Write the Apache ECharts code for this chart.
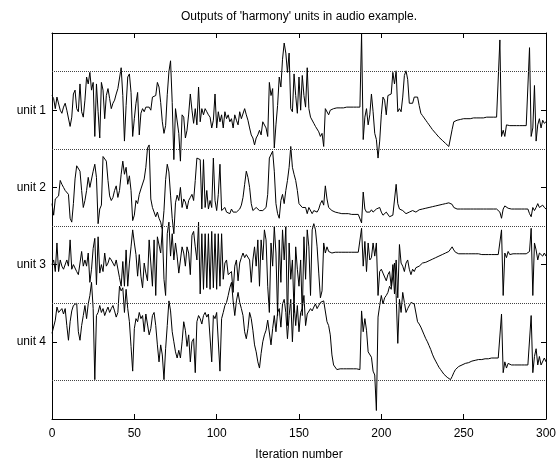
<!DOCTYPE html>
<html><head><meta charset="utf-8">
<script src="https://cdn.jsdelivr.net/npm/echarts@6/dist/echarts.min.js"></script>
<style>html,body{margin:0;padding:0;background:#fff}#c{width:559px;height:466px}</style>
</head><body><div id="c"></div>
<script>
// ---- data (values in hundredths of one unit band; dotted lines at +/-50) ----
const chartTitle = "Outputs of 'harmony' units in audio example.";
const xTitle = 'Iteration number';
const unitNames = ['unit 1', 'unit 2', 'unit 3', 'unit 4'];
const unitOffsets = [4, 3, 2, 1];
const bandLevels = [0.5, 1.5, 2.5, 3.5, 4.5];
const xMin = 0, xMax = 300, xStep = 50;

const unit1 = [
19,15,2,17,15,0,-4,4,9,0,
2,-21,-9,21,26,2,-2,34,-2,-9,
13,43,34,49,26,36,-34,34,-2,-36,
36,26,-11,19,28,15,2,9,13,21,
28,30,55,19,-40,6,43,47,23,-34,
-11,9,23,-32,-4,2,-2,4,6,4,
0,17,15,19,36,30,10,-15,-30,-20,
20,50,64,10,-64,2,0,-30,-66,-6,
-9,-36,-26,-5,21,0,-17,2,-19,30,
-15,2,-6,2,-2,-6,-9,-23,-13,21,
-23,-2,-15,-6,-23,-2,-11,-6,-15,-11,
-23,-6,-13,-19,-2,-11,-9,2,-6,-13,
-23,-32,-36,-45,-36,-32,-26,-32,-15,-13,
-23,-34,36,19,28,-49,-19,6,43,30,
66,87,74,49,74,2,-2,47,19,-4,
43,0,45,19,4,55,2,-9,-11,-17,
-21,-23,-28,-34,-30,-47,2,0,-6,0,
2,2,3,3,3,3,3,3,4,4,
4,4,4,4,4,4,4,4,99,-38,
-9,2,-19,-6,21,-2,-30,-38,-62,-40,
-6,17,13,-6,19,21,21,49,34,51,
-2,2,-2,17,45,51,40,9,11,9,
17,19,17,6,-4,-7,-10,-13,-16,-19,
-22,-25,-27,-30,-32,-35,-37,-39,-41,-43,
-45,-47,-49,-25,-15,-13,-13,-12,-12,-12,
-11,-11,-11,-11,-11,-10,-10,-10,-10,-10,
-10,-10,-10,-10,-9,-9,-9,-9,-9,-9,
-9,-9,91,-34,-26,-34,-19,-21,-20,-20,
-20,-20,-20,-20,-20,-20,-20,-20,-20,-20,
81,-34,-23,32,-40,-19,-11,-23,-13,-17,-15
];

const unit2 = [
-21,-36,-15,-17,-11,9,4,0,-4,-6,
-9,-40,-45,-21,11,28,30,21,-4,-26,
-17,-4,13,0,2,21,30,13,-47,-28,
-23,40,40,34,9,-11,-17,-13,-4,2,
-13,-4,17,34,17,26,4,15,-4,-43,
-36,-17,-21,-9,-2,-4,11,26,51,55,
-15,-26,-28,-38,-32,-40,-45,-55,-30,10,
30,20,-10,-40,-60,-20,-10,-17,0,-26,
-15,-19,-28,-17,-13,-9,-17,9,38,40,
36,-28,36,-26,-4,-28,-17,-26,38,-17,
-30,-9,30,-30,-32,-26,-32,-30,-34,-28,
-32,-34,-32,-30,-28,-23,-13,4,21,13,
0,-21,-30,-28,-26,-28,-30,-28,-30,-28,
-26,-9,38,40,47,21,-21,-34,-40,-17,
-9,-21,-4,9,26,53,26,17,9,-4,
-21,-19,-26,-28,-26,-34,-26,-28,-34,-30,
-28,-32,-28,-21,-17,-23,2,-15,-26,-28,
-30,-32,-32,-33,-33,-33,-34,-34,-34,-34,
-34,-34,-35,-35,-35,-35,-35,-36,-46,-6,
-28,-32,-34,-32,-29,-32,-34,-28,-26,-26,
-32,-36,-34,-32,-34,-38,-38,-36,-34,4,
-21,-28,-28,-30,-32,-34,-36,-32,-30,-30,
-31,-32,-31,-29,-28,-28,-27,-27,-26,-26,
-25,-25,-24,-24,-23,-23,-22,-22,-21,-21,
-21,-20,-20,-22,-26,-27,-28,-28,-28,-28,
-28,-28,-28,-28,-28,-28,-28,-28,-28,-28,
-28,-28,-28,-28,-28,-28,-28,-28,-28,-28,
-28,-28,-32,-40,-28,-24,-26,-27,-28,-28,
-28,-28,-28,-28,-28,-28,-28,-28,-28,-28,
-34,-38,-26,-30,-26,-21,-26,-28,-23,-26,-28
];

const unit3 = [
0,6,-9,28,-9,6,-2,-6,-4,6,
-2,32,-6,0,2,-9,-13,-11,17,-2,
6,-2,15,-23,-6,21,34,-26,36,-11,
0,-9,15,-2,2,9,6,2,-2,6,
4,-17,-28,4,-28,19,-28,2,23,45,
28,13,-15,13,-15,-30,2,-11,-21,32,
32,-28,32,-40,36,38,15,45,-19,-40,
40,55,11,40,6,28,11,-11,-13,23,
15,-2,23,15,-13,38,43,23,6,55,
-38,40,-32,40,-30,40,-32,43,-30,40,
-32,40,-28,40,-19,2,6,-13,-15,-9,
-36,-2,6,-21,2,9,15,9,13,11,
6,-23,6,23,-2,32,-28,32,6,45,
32,-28,-62,28,-2,49,15,-66,32,-23,
45,6,49,-79,28,-19,6,-62,23,-6,
-28,6,-66,36,-19,45,23,-40,45,53,
45,23,-11,-43,-34,28,15,23,17,19,
15,16,16,16,16,16,16,16,16,16,
16,16,16,16,16,16,16,16,47,-2,
30,-9,28,6,9,28,11,28,-40,-9,
-6,-11,-13,-21,-13,-9,-28,0,-38,6,
-43,26,2,-2,-9,2,6,-6,-13,-6,
-9,-4,-6,-2,0,2,2,3,4,5,
6,7,8,9,10,11,12,13,14,15,
16,17,17,23,19,16,15,14,14,14,
14,14,14,14,14,14,14,14,14,14,
13,13,13,13,13,13,13,13,13,13,
13,13,13,45,-40,15,9,17,13,14,
14,14,14,14,14,14,14,14,14,14,
17,47,-40,28,19,6,15,17,11,15,11
];

const unit4 = [
11,9,28,45,38,36,43,36,43,21,
2,26,40,47,49,50,13,2,21,34,
47,30,49,60,77,43,-49,34,38,47,
38,43,34,40,45,38,43,47,40,32,
38,72,66,70,38,68,43,26,-6,-38,
17,30,26,38,30,34,13,36,34,9,
17,34,38,21,-4,-26,-4,-17,-49,-9,
21,53,40,13,0,-13,-21,-11,-21,0,
26,15,-6,9,-26,0,4,-40,26,34,
30,23,34,38,32,36,34,-26,34,30,
38,36,-38,30,38,47,51,60,70,77,
53,34,53,64,51,43,34,13,4,17,
38,30,15,-4,-13,-26,-34,-15,0,9,
15,28,30,-4,17,34,13,38,43,19,
49,55,38,4,34,55,0,51,21,47,
13,38,43,60,21,36,38,43,40,45,
49,43,47,51,49,53,51,26,21,9,
-17,-30,-32,-36,-35,-35,-35,-35,-35,-35,
-35,-35,-35,-35,-35,-35,-35,-36,40,13,
30,15,-13,-13,-20,-38,-43,-89,32,47,
60,49,57,60,64,72,68,85,102,60,
-2,55,38,64,51,38,43,45,51,51,
49,50,26,23,19,14,9,4,0,-5,
-10,-16,-21,-25,-29,-33,-36,-39,-42,-44,
-46,-48,-49,-45,-40,-36,-34,-32,-31,-30,
-29,-28,-27,-27,-26,-25,-24,-24,-24,-23,
-23,-23,-23,-22,-22,-22,-21,-21,-21,-21,
-21,-21,-20,36,-40,-26,-34,-28,-30,-30,
-30,-30,-30,-30,-30,-30,-30,-30,-30,-30,
-30,34,-40,-19,-9,-30,-19,-30,-28,-21,-26
];

const unitValues = [unit1, unit2, unit3, unit4];
const valueScale = 100;

// ---- chart ----
const FONT = "'Liberation Sans', Arial, Helvetica, sans-serif";
const chart = echarts.init(document.getElementById('c'), null, {renderer: 'canvas'});

const labelFor = {};
unitNames.forEach((n, k) => { labelFor[unitOffsets[k]] = n; });

const axisLineStyle = {color: '#000', width: 1};
const baseX = {
  type: 'value', min: xMin, max: xMax, interval: xStep,
  axisLine: {show: true, onZero: false, lineStyle: axisLineStyle},
  axisTick: {show: true, inside: true, length: 5, lineStyle: axisLineStyle},
  splitLine: {show: false}
};
const baseY = {
  type: 'value', min: 0, max: 5, interval: 1,
  axisLine: {show: true, onZero: false, lineStyle: axisLineStyle},
  axisTick: {show: true, inside: true, length: 5, lineStyle: axisLineStyle},
  splitLine: {show: false}
};

const series = unitValues.map((vals, k) => ({
  type: 'line',
  name: unitNames[k],
  data: vals.map((v, i) => [xMin + i, unitOffsets[k] + v / valueScale]),
  showSymbol: false,
  symbol: 'none',
  lineStyle: {color: '#000', width: 1},
  animation: false,
  silent: true,
  z: 3
}));

series.push({
  type: 'line',
  data: [],
  silent: true,
  z: 1,
  markLine: {
    silent: true,
    symbol: ['none', 'none'],
    label: {show: false},
    lineStyle: {type: [1, 1], color: '#444', width: 1},
    emphasis: {disabled: true},
    animation: false,
    data: bandLevels.map(v => ({yAxis: v}))
  }
});

chart.setOption({
  backgroundColor: '#fff',
  animation: false,
  grid: {left: 52, right: 11, top: 33, bottom: 43, containLabel: false},
  xAxis: [
    Object.assign({}, baseX, {
      position: 'bottom',
      axisLabel: {color: '#000', fontSize: 12, fontFamily: FONT, margin: 9},
      name: xTitle, nameLocation: 'middle', nameGap: 30,
      nameTextStyle: {color: '#000', fontSize: 12, fontFamily: FONT}
    }),
    Object.assign({}, baseX, {
      position: 'top',
      axisLabel: {show: false},
      name: chartTitle, nameLocation: 'middle', nameGap: 10,
      nameTextStyle: {color: '#000', fontSize: 12, fontFamily: FONT}
    })
  ],
  yAxis: [
    Object.assign({}, baseY, {
      position: 'left',
      axisLabel: {color: '#000', fontSize: 12, fontFamily: FONT, margin: 6,
        formatter: v => labelFor[v] || ''}
    }),
    Object.assign({}, baseY, {
      position: 'right',
      axisLabel: {show: false}
    })
  ],
  series: series
});
</script>
</body></html>
